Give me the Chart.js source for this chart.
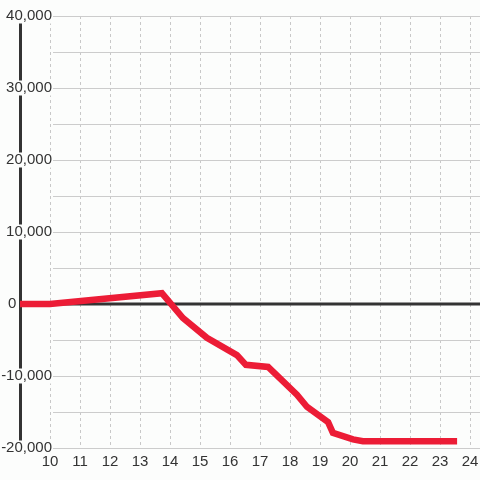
<!DOCTYPE html>
<html>
<head>
<meta charset="utf-8">
<script src="https://cdn.jsdelivr.net/npm/chart.js@4/dist/chart.umd.min.js"></script>
<style>
  html, body { margin: 0; padding: 0; background: #fcfdfc; }
  #chart { display: block; }
</style>
</head>
<body>
<canvas id="chart" width="480" height="480"></canvas>
<script>
// Hour of day (x) and running balance (y)
const HOURS = [9, 10, 13.73, 14.43, 15.23, 16.23, 16.53, 17.27, 18.23, 18.57, 19.27, 19.43, 20.1, 20.43, 23.57];
const BALANCE = [0, 0, 1500, -1950, -4700, -7100, -8450, -8750, -12600, -14300, -16400, -17900, -18800, -19050, -19050];

// Axis ticks
const X_TICKS = [10, 11, 12, 13, 14, 15, 16, 17, 18, 19, 20, 21, 22, 23, 24];
const Y_GRID = [-20000, -15000, -10000, -5000, 0, 5000, 10000, 15000, 20000, 25000, 30000, 35000, 40000];
const Y_LABELS = [-20000, -10000, 0, 10000, 20000, 30000, 40000];

// Colours
const BG = '#fcfdfc';
const INK = '#333333';
const RED = '#ec1c36';
const GRID = '#cccccc';
const FONT = '"Liberation Sans", Arial, sans-serif';

const fmt = v => v.toLocaleString('en-US');

// Horizontal grid, zero line and y labels (labels sit on a backdrop over the axis line)
const axisDecor = {
    id: 'axisDecor',
    beforeDatasetsDraw(chart) {
        const { ctx, chartArea, scales: { y } } = chart;
        ctx.save();

        ctx.strokeStyle = GRID;
        ctx.lineWidth = 1;
        Y_GRID.forEach(v => {
            if (v === 0) return;
            const py = Math.round(y.getPixelForValue(v)) + 0.5;
            ctx.beginPath();
            ctx.moveTo(53, py);
            ctx.lineTo(chartArea.right, py);
            ctx.stroke();
        });

        const y0 = y.getPixelForValue(0);
        ctx.strokeStyle = INK;
        ctx.lineWidth = 3;
        ctx.beginPath();
        ctx.moveTo(chartArea.left, y0);
        ctx.lineTo(chartArea.right, y0);
        ctx.stroke();

        ctx.font = '15px ' + FONT;
        ctx.textBaseline = 'middle';
        Y_LABELS.forEach(v => {
            const text = fmt(v);
            const py = y.getPixelForValue(v);
            const w = ctx.measureText(text).width;
            const left = v === 0 ? 8 : 52 - w;
            ctx.fillStyle = BG;
            ctx.fillRect(left - 1, py - 7.5, w + 2, 15);
            ctx.fillStyle = INK;
            ctx.textAlign = 'left';
            ctx.fillText(text, left, py);
        });

        ctx.restore();
    }
};

const ctx = document.getElementById('chart').getContext('2d');

new Chart(ctx, {
    type: 'line',
    data: {
        datasets: [{
            data: HOURS.map((h, i) => ({ x: h, y: BALANCE[i] })),
            borderColor: RED,
            borderWidth: 6.5,
            pointRadius: 0,
            tension: 0,
            borderCapStyle: 'butt',
            borderJoinStyle: 'miter',
            fill: false
        }]
    },
    options: {
        responsive: false,
        animation: false,
        layout: { padding: { top: 16, left: 0, right: 0, bottom: 0 } },
        plugins: {
            legend: { display: false },
            tooltip: { enabled: false }
        },
        scales: {
            x: {
                type: 'linear',
                min: 9,
                max: 24.3333,
                afterBuildTicks: s => { s.ticks = X_TICKS.map(v => ({ value: v })); },
                afterFit: s => {
                    s.height = 32;
                    s.paddingLeft = 0;
                    s.paddingRight = 0;
                },
                grid: { color: '#c8c8c8', lineWidth: 1, drawTicks: false, borderDash: [3, 3] },
                border: { display: false, dash: [3, 3] },
                ticks: {
                    color: INK,
                    font: { family: FONT, size: 15, lineHeight: 1 },
                    padding: 6,
                    maxRotation: 0,
                    autoSkip: false
                }
            },
            y: {
                min: -20000,
                max: 40000,
                afterBuildTicks: s => { s.ticks = Y_GRID.map(v => ({ value: v })); },
                afterFit: s => { s.width = 20; },
                grid: { drawOnChartArea: false, drawTicks: false },
                border: { display: true, width: 3, color: INK },
                ticks: { display: false }
            }
        }
    },
    plugins: [axisDecor]
});
</script>
</body>
</html>
